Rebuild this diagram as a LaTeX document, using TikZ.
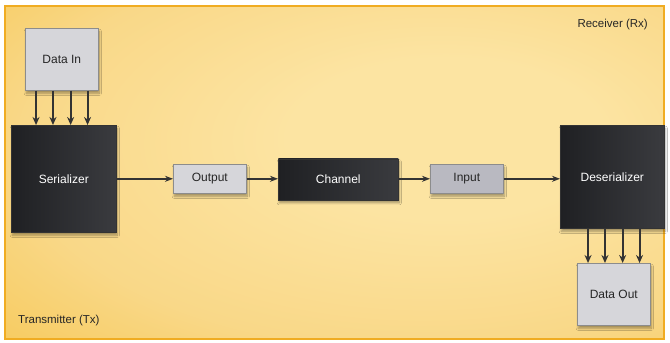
\documentclass[tikz,border=0pt]{standalone}
\usepackage{fontspec}
\setmainfont{Liberation Sans}
\usetikzlibrary{arrows.meta,shadows.blur,calc}
\definecolor{bgpale}{HTML}{FCE4A2}
\definecolor{bgmid}{HTML}{F9D888}
\definecolor{bgwarm}{HTML}{F6C650}
\definecolor{bgorange}{HTML}{F2B226}
\definecolor{frameor}{HTML}{F0AC22}
\definecolor{lightbox}{HTML}{D6D6DA}
\definecolor{inbox}{HTML}{B9B9C1}
\definecolor{darkA}{HTML}{1F2023}
\definecolor{darkB}{HTML}{3A3B3F}
\definecolor{arr}{HTML}{333333}
\pgfdeclareradialshading{bgshade}{\pgfpoint{10bp}{6bp}}{color(0bp)=(bgpale); color(12bp)=(bgpale); color(30bp)=(bgmid); color(46bp)=(bgwarm); color(64bp)=(bgorange); color(80bp)=(bgorange)}
\tikzset{
  lbox/.style={draw=black!45, line width=0.6pt, fill=lightbox, anchor=north west, inner sep=0pt,
    font=\fontsize{12}{14}\selectfont, text=black!85,
    blur shadow={shadow blur steps=6, shadow xshift=1pt, shadow yshift=-3pt, shadow opacity=35}},
  dbox/.style={draw=black!80, line width=0.6pt, left color=darkA, right color=darkB, anchor=north west, inner sep=0pt,
    font=\fontsize{12}{14}\selectfont, text=white,
    blur shadow={shadow blur steps=6, shadow xshift=1pt, shadow yshift=-3pt, shadow opacity=35}},
  flow/.style={draw=arr, line width=1.5pt, -{Stealth[length=8pt,width=6pt]}},
  bus/.style={draw=arr, line width=2pt, -{Stealth[length=8pt,width=7pt]}},
  lbl/.style={font=\fontsize{11.5}{13}\selectfont, text=black!85, inner sep=0pt}
}
\begin{document}
\begin{tikzpicture}[x=1pt,y=-1pt]
\useasboundingbox (0,0) rectangle (670,343);
\fill[white] (0,0) rectangle (670,343);
\shade[shading=bgshade, draw=frameor, line width=1.2pt] (5,6) rectangle (664,339);

\node[lbl, anchor=east] (rx) at (648,25) {Receiver (Rx)};
\node[lbl, anchor=west] (tx) at (18,321) {Transmitter (Tx)};

\node[lbox, minimum width=73pt, minimum height=62pt] (din) at (25,28) {Data In};
\node[dbox, minimum width=105pt, minimum height=107pt] (ser) at (11,125) {Serializer};
\node[lbox, minimum width=73pt, minimum height=29pt] (out) at (173,164) {Output};
\node[dbox, minimum width=120pt, minimum height=41pt] (chan) at (278,158.5) {Channel};
\node[lbox, fill=inbox, minimum width=73pt, minimum height=29pt] (inp) at (430,164) {Input};
\node[dbox, minimum width=104pt, minimum height=103pt] (des) at (560,125) {Deserializer};
\node[lbox, minimum width=73pt, minimum height=62pt] (dout) at (577,263) {Data Out};

\foreach \f/\n in {0.15/a,0.38/b,0.62/c,0.85/d}{
  \coordinate (s\n) at ($(din.south west)!\f!(din.south east)$);
  \draw[bus] (s\n) -- (s\n |- ser.north);
  \coordinate (t\n) at ($(dout.north west)!\f!(dout.north east)$);
  \draw[bus] (t\n |- des.south) -- (t\n);
}

\draw[flow] (ser.east |- out.west) -- (out.west);
\draw[flow] (out.east) -- (out.east -| chan.west);
\draw[flow] (chan.east |- inp.west) -- (inp.west);
\draw[flow] (inp.east) -- (inp.east -| des.west);
\end{tikzpicture}
\end{document}
